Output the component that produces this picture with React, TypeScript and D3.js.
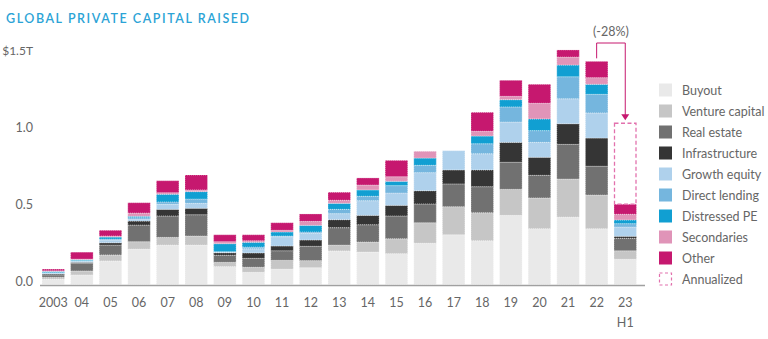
import React from "react";
import * as d3 from "d3";

const years = ["2003","04","05","06","07","08","09","10","11","12","13","14","15","16","17","18","19","20","21","22","23"];
const buyout =      [0.035,0.062,0.153,0.230,0.256,0.256,0.116,0.079,0.100,0.109,0.218,0.211,0.200,0.268,0.323,0.284,0.449,0.362,0.438,0.362,0.164];
const venture =     [0.012,0.026,0.039,0.048,0.050,0.059,0.028,0.033,0.057,0.046,0.038,0.065,0.097,0.133,0.182,0.182,0.169,0.200,0.247,0.219,0.055];
const realEstate =  [0.015,0.050,0.064,0.108,0.139,0.138,0.046,0.058,0.062,0.093,0.113,0.112,0.148,0.122,0.148,0.169,0.176,0.147,0.225,0.187,0.081];
const infra =       [0.006,0.006,0.015,0.026,0.043,0.042,0.016,0.035,0.031,0.041,0.052,0.061,0.069,0.086,0.091,0.109,0.129,0.117,0.134,0.183,0.013];
const growth =      [0.005,0.006,0.018,0.013,0.033,0.032,0.004,0.027,0.060,0.043,0.039,0.095,0.080,0.117,0.125,0.105,0.132,0.097,0.162,0.163,0.060];
const directLend =  [0.004,0.005,0.006,0.009,0.015,0.028,0.003,0.011,0.005,0.009,0.028,0.029,0.048,0.048,0.000,0.065,0.098,0.076,0.143,0.121,0.022];
const distressed =  [0.008,0.006,0.013,0.009,0.050,0.048,0.052,0.031,0.026,0.043,0.039,0.041,0.028,0.047,0.000,0.050,0.047,0.076,0.076,0.065,0.024];
const secondaries = [0.004,0.004,0.007,0.021,0.010,0.011,0.013,0.010,0.011,0.026,0.020,0.032,0.030,0.044,0.000,0.031,0.022,0.102,0.052,0.043,0.037];
const other =       [0.011,0.045,0.037,0.067,0.078,0.097,0.045,0.039,0.049,0.048,0.052,0.046,0.106,0.000,0.000,0.123,0.104,0.123,0.046,0.106,0.065];
const annualized2023 = 1.047;
const yTicks = [0, 0.5, 1.0];
const seriesNames = ["Buyout","Venture capital","Real estate","Infrastructure","Growth equity","Direct lending","Distressed PE","Secondaries","Other"];
const seriesColors = ["#e9e9e9","#c6c6c6","#717171","#353535","#afd1ec","#75b6de","#119fd2","#e094b8","#c6186f"];
const seriesValues = [buyout, venture, realEstate, infra, growth, directLend, distressed, secondaries, other];

const FONT = "Lato, 'Open Sans', sans-serif";

export default function App() {
  const W = 768, H = 339;
  const x = d3.scaleBand<string>().domain(years).range([38.95, 639.55]).paddingInner(0.213).paddingOuter(0.1065);
  const y = d3.scaleLinear().domain([0, 1.5]).range([284.5, 53.5]);
  const rows = years.map((yr, i) => {
    const r: any = { year: yr };
    seriesNames.forEach((n, k) => { r[n] = seriesValues[k][i]; });
    return r;
  });
  const stack = d3.stack<any>().keys(seriesNames)(rows);
  const bw = x.bandwidth();
  const last = years[years.length - 1];
  const prev = years[years.length - 2];
  const lastX = x(last)! + bw / 2;
  const prevX = x(prev)! + bw / 2;
  const prevTop = y(d3.sum(seriesValues, (s) => s[years.length - 2]));
  const lastTop = y(d3.sum(seriesValues, (s) => s[years.length - 1]));
  const annTop = y(annualized2023);
  const pink = "#c6186f";
  const dashPink = "#e271ad";
  const lineY = 43;

  return (
    <svg width={W} height={H} style={{ display: "block", position: "absolute", left: 0, top: 0 }} fontFamily={FONT}>
      <text x={6} y={23} fill="#2ba3d6" fontSize={12.5} fontWeight={600} letterSpacing={1.55}>GLOBAL PRIVATE CAPITAL RAISED</text>
      <text x={33} y={54.5} fill="#666" fontSize={12} textAnchor="end">$1.5T</text>
      {yTicks.map((t) => (
        <text key={t} x={33} y={y(t) + 1} fill="#666" fontSize={12.5} textAnchor="end">{t.toFixed(1)}</text>
      ))}
      {stack.map((layer, k) => (
        <g key={seriesNames[k]} fill={seriesColors[k]}>
          {layer.map((d, i) => {
            const h = y(d[0]) - y(d[1]);
            if (h <= 0.01) return null;
            return <rect key={i} x={x(years[i])} y={y(d[1])} width={bw} height={h} stroke="#fff" strokeWidth={0.5} strokeDasharray="1 1" />;
          })}
        </g>
      ))}
      <rect x={x(last)! + 0.5} y={annTop} width={bw - 1} height={lastTop - annTop} fill="none" stroke={dashPink} strokeWidth={1.3} strokeDasharray="4 2.5" />
      <line x1={40} x2={645} y1={285.5} y2={285.5} stroke="#a0a0a0" strokeWidth={1.5} />
      <path d={`M${prevX},${prevTop - 3} V${lineY} H${lastX} V${annTop - 8}`} fill="none" stroke={pink} strokeWidth={1} />
      <path d={`M${lastX - 4},${annTop - 9} L${lastX + 4},${annTop - 9} L${lastX},${annTop - 3} Z`} fill={pink} />
      <text x={(prevX + lastX) / 2} y={36} fill="#666" fontSize={12.5} textAnchor="middle">(-28%)</text>
      {years.map((yr) => (
        <text key={yr} x={x(yr)! + bw / 2} y={307} fill="#666" fontSize={12.5} textAnchor="middle">{yr}</text>
      ))}
      <text x={lastX} y={327} fill="#666" fontSize={12.5} textAnchor="middle">H1</text>
      {seriesNames.map((n, k) => (
        <g key={n} transform={`translate(659, ${83.5 + k * 21})`}>
          <rect width={13} height={13} fill={seriesColors[k]} />
          <text x={23} y={11} fill="#666" fontSize={12.5}>{n}</text>
        </g>
      ))}
      <g transform={`translate(659, ${83.5 + 9 * 21})`}>
        <rect x={0.5} y={0.5} width={12} height={12} fill="none" stroke={dashPink} strokeWidth={1.2} strokeDasharray="3 2.5" />
        <text x={23} y={11} fill="#666" fontSize={12.5}>Annualized</text>
      </g>
    </svg>
  );
}
